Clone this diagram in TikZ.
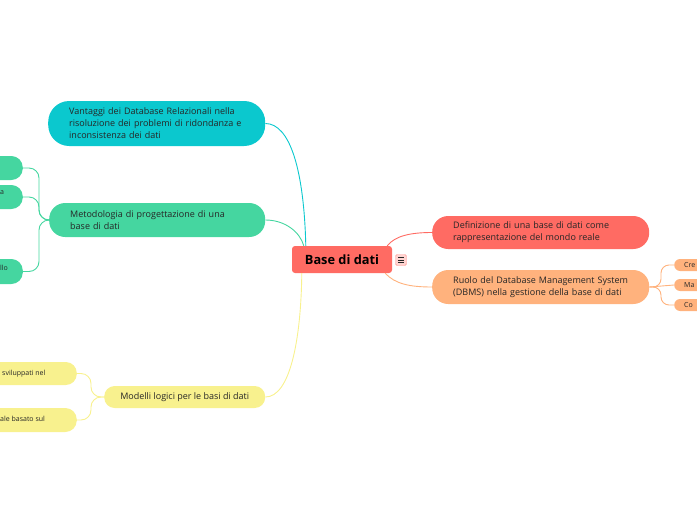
\documentclass[tikz,border=0pt]{standalone}
\usepackage{fontspec}
\setmainfont{Open Sans}
\usetikzlibrary{positioning}
\definecolor{topicred}{HTML}{FF6B63}
\definecolor{topiccyan}{HTML}{0BC8CE}
\definecolor{topicgreen}{HTML}{45D6A0}
\definecolor{topicyellow}{HTML}{F8F18E}
\definecolor{topicorange}{HTML}{FFB27D}
\definecolor{textdark}{HTML}{262626}

\begin{document}
\begin{tikzpicture}[x=1pt, y=-1pt,
    topic/.style={text=textdark, align=left, inner ysep=0pt,
      font=\fontsize{9}{12}\selectfont, anchor=west},
    leaf/.style={text=textdark, inner sep=0pt,
      font=\fontsize{7}{8}\selectfont},
    link/.style={line width=0.9pt}
  ]
  \useasboundingbox (0,0) rectangle (697,520);

  % central topic
  \node[fill=topicred, rounded corners=3pt, minimum width=100pt,
    minimum height=27pt, text=black, font=\fontsize{12.8}{14}\selectfont\bfseries]
    (root) at (342,259.5) {Base di dati};
  \node[fill=topicred!30!white, draw=topicred!70, rounded corners=1.5pt,
    minimum size=11pt, inner sep=0pt] (menu) at (401,260) {};
  \foreach \dy in {-2.6,0,2.6}
    \draw[textdark, line width=0.7pt] ([xshift=-3pt, yshift=\dy pt]menu.center)
      -- ([xshift=3pt, yshift=\dy pt]menu.center);

  % main topics
  \node[topic, fill=topiccyan, rounded corners=21pt, minimum width=217pt,
    minimum height=45pt, text width=175pt, inner xsep=21pt] (vantaggi) at (48,123.5)
    {Vantaggi dei Database Relazionali nella\\risoluzione dei problemi di ridondanza e\\inconsistenza dei dati};
  \node[topic, fill=topicgreen, rounded corners=16pt, minimum width=216pt,
    minimum height=34pt, text width=174pt, inner xsep=21pt] (metodo) at (49,220)
    {Metodologia di progettazione di una\\base di dati};
  \node[topic, fill=topicyellow, rounded corners=10.5pt, minimum width=161pt,
    minimum height=22pt, align=center] (modelli) at (104,397)
    {Modelli logici per le basi di dati};
  \node[topic, fill=topicred, rounded corners=16pt, minimum width=217pt,
    minimum height=33pt, text width=175pt, inner xsep=21pt] (definiz) at (432,232.5)
    {Definizione di una base di dati come\\rappresentazione del mondo reale};
  \node[topic, fill=topicorange, rounded corners=16pt, minimum width=217pt,
    minimum height=34pt, text width=175pt, inner xsep=21pt] (ruolo) at (432,287)
    {Ruolo del Database Management System\\(DBMS) nella gestione della base di dati};

  % sub topics (cut by the page edge)
  \node[fill=topicgreen, rounded corners=11.5pt, minimum width=90pt,
    minimum height=24pt, anchor=east] (metodoa) at (23,168) {};
  \node[fill=topicgreen, rounded corners=11.5pt, minimum width=90pt,
    minimum height=24pt, anchor=east] (metodob) at (23,197) {};
  \node[fill=topicgreen, rounded corners=11.5pt, minimum width=90pt,
    minimum height=25pt, anchor=east] (metodoc) at (23,271.5) {};
  \node[fill=topicyellow, rounded corners=11pt, minimum width=120pt,
    minimum height=23pt, anchor=east] (modellia) at (77,373.5) {};
  \node[fill=topicyellow, rounded corners=11.5pt, minimum width=120pt,
    minimum height=24pt, anchor=east] (modellib) at (77,420) {};
  \node[fill=topicorange, rounded corners=6pt, minimum width=50pt,
    minimum height=12pt, anchor=west, inner xsep=10pt, leaf, text width=30pt,
    align=left] (dbmsa) at (674,265) {Cre};
  \node[fill=topicorange, rounded corners=6pt, minimum width=50pt,
    minimum height=12pt, anchor=west, inner xsep=10pt, leaf, text width=30pt,
    align=left] (dbmsb) at (674,285) {Ma};
  \node[fill=topicorange, rounded corners=6pt, minimum width=50pt,
    minimum height=12pt, anchor=west, inner xsep=10pt, leaf, text width=30pt,
    align=left] (dbmsc) at (674,305) {Co};

  % visible text of the cut sub topics
  \node[leaf, anchor=base west] (metodobtxt) at (0,194) {a};
  \node[leaf, anchor=base west] (metodoctxt) at (0,270) {llo};
  \node[leaf, anchor=base west] (modelliatxt) at (2,375) {sviluppati nel};
  \node[leaf, anchor=base west] (modellibtxt) at (0,421) {ale basato sul};

  % links from the central topic
  \draw[link, topiccyan] ([xshift=14pt]root.north west)
    .. controls (304,170) and (290,123.5) .. (vantaggi.east);
  \draw[link, topicgreen] ([xshift=12pt]root.north west)
    .. controls (300,232) and (285,220) .. (metodo.east);
  \draw[link, topicyellow] ([xshift=10pt]root.south west)
    .. controls (301,340) and (290,397) .. (modelli.east);
  \draw[link, topicred] ([xshift=-5pt]root.north east)
    .. controls (395,236) and (410,232.5) .. (definiz.west);
  \draw[link, topicorange] ([xshift=-7pt]root.south east)
    .. controls (395,284) and (410,287) .. (ruolo.west);

  % links to the sub topics
  \draw[link, topicgreen, rounded corners=10pt] (metodo.west) -- (39,220) |- (metodoa.east);
  \draw[link, topicgreen, rounded corners=10pt] (metodo.west) -- (39,220) |- (metodob.east);
  \draw[link, topicgreen, rounded corners=10pt] (metodo.west) -- (39,220) |- (metodoc.east);
  \draw[link, topicyellow, rounded corners=10pt] (modelli.west) -- (91,397) |- (modellia.east);
  \draw[link, topicyellow, rounded corners=10pt] (modelli.west) -- (91,397) |- (modellib.east);
  \draw[link, topicorange, rounded corners=8pt] (ruolo.east) -- (661,287) |- (dbmsa.west);
  \draw[link, topicorange] (ruolo.east) -- (dbmsb.west);
  \draw[link, topicorange, rounded corners=8pt] (ruolo.east) -- (661,287) |- (dbmsc.west);
\end{tikzpicture}
\end{document}
